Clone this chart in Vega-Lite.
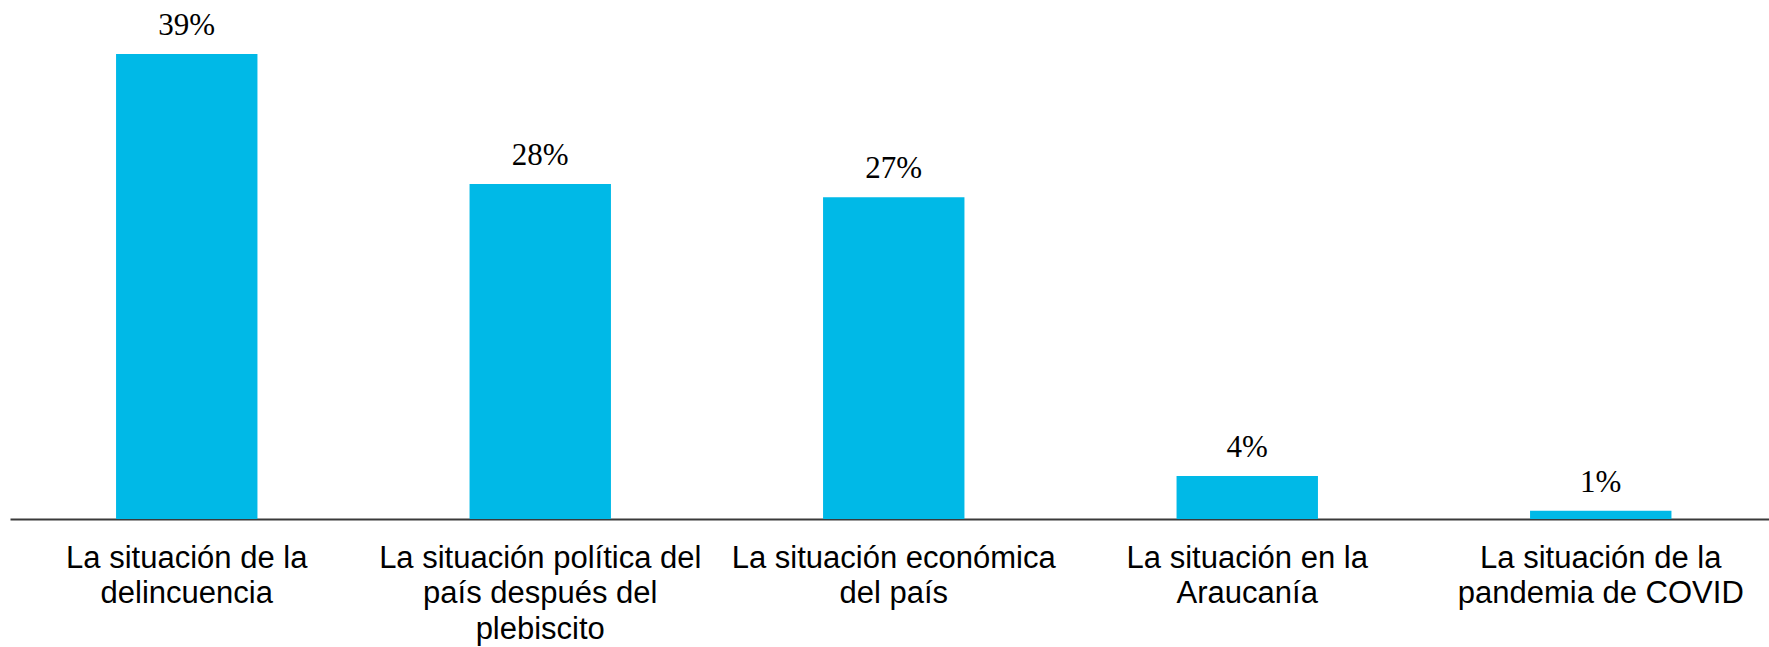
{
  "$schema": "https://vega.github.io/schema/vega-lite/v6.json",
  "autosize": {"type": "none"},
  "padding": {"left": 10, "right": 0, "top": 0, "bottom": 128},
  "width": 1759,
  "height": 519,
  "background": "white",
  "config": {"view": {"stroke": null}},
  "data": {
    "values": [
      {"categoria": "La situación de la|delincuencia", "valor": 39, "etiqueta": "39%"},
      {"categoria": "La situación política del|país después del|plebiscito", "valor": 28.1, "etiqueta": "28%"},
      {"categoria": "La situación económica|del país", "valor": 27, "etiqueta": "27%"},
      {"categoria": "La situación en la|Araucanía", "valor": 3.6, "etiqueta": "4%"},
      {"categoria": "La situación de la|pandemia de COVID", "valor": 0.7, "etiqueta": "1%"}
    ]
  },
  "encoding": {
    "x": {
      "field": "categoria",
      "type": "nominal",
      "sort": null,
      "scale": {"range": [0, 1767.5], "paddingInner": 0.6, "paddingOuter": 0.3},
      "axis": {
        "title": null,
        "labelExpr": "split(datum.value, '|')",
        "labelAngle": 0,
        "labelFont": "Liberation Sans",
        "labelFontSize": 31,
        "labelColor": "#000000",
        "labelLineHeight": 35.5,
        "labelBaseline": "top",
        "labelPadding": 24,
        "labelLimit": 500,
        "labelOverlap": false,
        "ticks": false,
        "domainColor": "#3a3a3a",
        "domainWidth": 2
      }
    },
    "y": {
      "field": "valor",
      "type": "quantitative",
      "scale": {"domain": [0, 43.54], "nice": false, "zero": true},
      "axis": null
    }
  },
  "layer": [
    {"mark": {"type": "bar", "color": "#00B9E7"}},
    {
      "mark": {
        "type": "text",
        "font": "Liberation Serif",
        "fontSize": 31,
        "color": "#000000",
        "baseline": "alphabetic",
        "dy": -19
      },
      "encoding": {"text": {"field": "etiqueta"}}
    }
  ]
}
